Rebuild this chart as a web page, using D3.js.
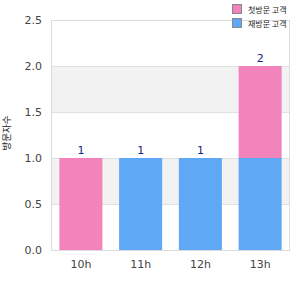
<!DOCTYPE html>
<html><head><meta charset="utf-8">
<script src="https://cdn.jsdelivr.net/npm/d3@7"></script>
<style>body{margin:0;background:#fff}svg{display:block}</style>
</head><body><svg id="c" width="300" height="300"></svg>
<script>
const categories = ["10h","11h","12h","13h"];
const seriesNames = ["첫방문 고객","재방문 고객"];
const pinkValues = [1,0,0,1];
const blueValues = [0,1,1,1];
const yTicks = [0,0.5,1,1.5,2,2.5];
const yLabel = "방문자수";
const colors = ["#f384bb","#5fa8f5"];

const svg = d3.select("#c");
const m = {l:51, r:10, t:20, b:50};
const W = 300, H = 300;
const x = d3.scaleBand().domain(categories).range([m.l, W-m.r]).paddingInner(0.28).paddingOuter(0.14);
const y = d3.scaleLinear().domain([0,2.5]).range([H-m.b, m.t]);

for (let i=0;i<yTicks.length-1;i++){
  if (i%2===1) svg.append("rect").attr("x",m.l).attr("width",W-m.r-m.l)
    .attr("y",y(yTicks[i+1])).attr("height",y(yTicks[i])-y(yTicks[i+1])).attr("fill","#f2f2f2");
}
svg.append("g").selectAll("line").data(yTicks.slice(1)).join("line")
  .attr("x1",m.l).attr("x2",W-m.r).attr("y1",d=>y(d)+0.5).attr("y2",d=>y(d)+0.5)
  .attr("stroke","#e0e0e0");
svg.append("rect").attr("x",m.l+0.5).attr("y",m.t+0.5).attr("width",W-m.r-m.l-1).attr("height",H-m.b-m.t)
  .attr("fill","none").attr("stroke","#dcdcdc");

const rows = categories.map((c,i)=>({cat:c, blue:blueValues[i], pink:pinkValues[i]}));
const stack = d3.stack().keys(["blue","pink"])(rows);
const colorOf = {blue:colors[1], pink:colors[0]};
svg.append("g").selectAll("g").data(stack).join("g").attr("fill",d=>colorOf[d.key])
  .selectAll("rect").data(d=>d).join("rect")
  .attr("x",d=>x(d.data.cat)).attr("width",x.bandwidth())
  .attr("y",d=>y(d[1])).attr("height",d=>y(d[0])-y(d[1]));

svg.append("g").selectAll("text").data(rows).join("text")
  .attr("x",d=>x(d.cat)+x.bandwidth()/2).attr("y",d=>y(d.blue+d.pink)-4)
  .attr("text-anchor","middle").attr("font-family","DejaVu Sans, sans-serif").attr("font-size",11)
  .attr("fill","#1a237e").text(d=>d.blue+d.pink);

const ya = svg.append("g").attr("transform",`translate(${m.l},0)`)
  .call(d3.axisLeft(y).tickValues(yTicks).tickFormat(d3.format(".1f")).tickSize(0).tickPadding(9));
ya.select(".domain").remove();
ya.selectAll("text").attr("font-family","DejaVu Sans, sans-serif").attr("font-size",11).attr("fill","#444");

const xa = svg.append("g").attr("transform",`translate(0,${H-m.b})`)
  .call(d3.axisBottom(x).tickSize(0).tickPadding(10));
xa.select(".domain").remove();
xa.selectAll("text").attr("font-family","DejaVu Sans, sans-serif").attr("font-size",11).attr("fill","#444");

svg.append("text").attr("transform","translate(10,133) rotate(-90)").attr("text-anchor","middle")
  .attr("font-family","Noto Sans CJK KR, sans-serif").attr("font-size",9.5).attr("fill","#222").text(yLabel);

const lg = svg.append("g").selectAll("g").data(seriesNames).join("g")
  .attr("transform",(d,i)=>`translate(232,${4+i*14})`);
lg.append("rect").attr("x",0.5).attr("y",0.5).attr("width",9).attr("height",9)
  .attr("fill",(d,i)=>colors[i]).attr("stroke","#888");
lg.append("text").attr("x",16).attr("y",8.5).attr("font-family","Noto Sans CJK KR, sans-serif")
  .attr("font-size",8).attr("fill","#222").text(d=>d);
</script></body></html>
